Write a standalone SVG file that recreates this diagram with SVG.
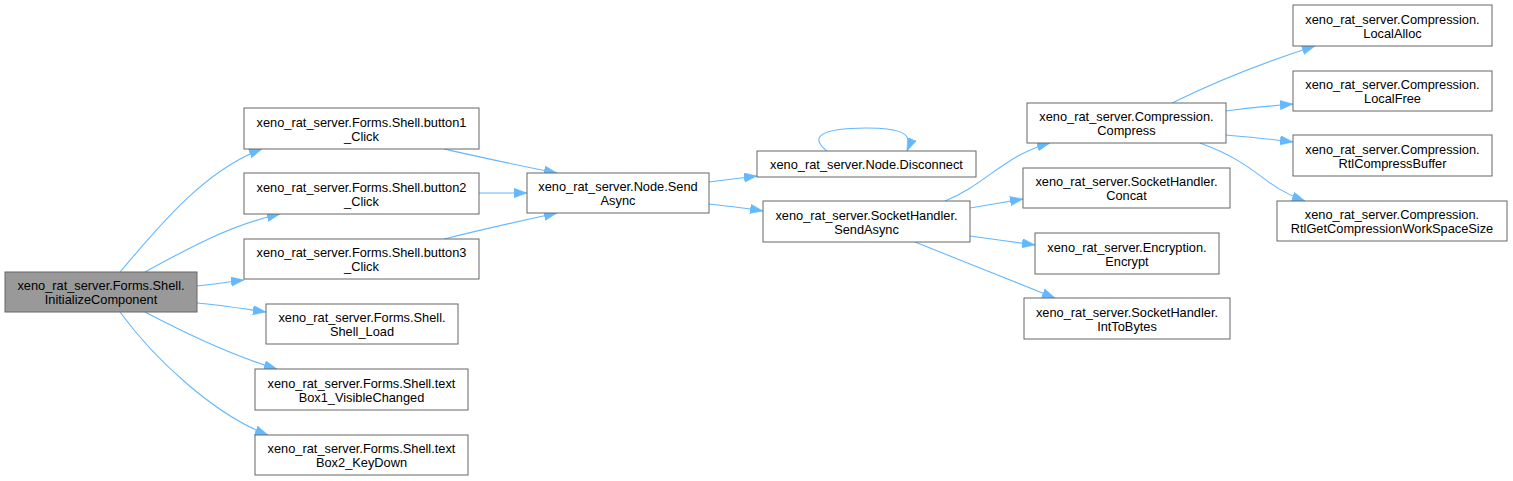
<svg xmlns="http://www.w3.org/2000/svg" width="1513" height="481" viewBox="0 0 1513 481">
<style>
.n rect{fill:#ffffff;stroke:#666666;stroke-width:1}
.root rect{fill:#999999;stroke:#666666;stroke-width:1}
text{font-family:"Liberation Sans",Arial,sans-serif;font-size:12.8px;fill:#000000;text-anchor:middle}
.e path{fill:none;stroke:#63b8ff;stroke-width:1.1;marker-end:url(#ah)}
</style>
<defs>
<marker id="ah" markerUnits="userSpaceOnUse" markerWidth="14" markerHeight="10" refX="13" refY="4.75" orient="auto">
<path d="M0,0 L13,4.75 L0,9.5 z" fill="#63b8ff" stroke="#63b8ff" stroke-width="0.5"/>
</marker>
</defs>
<rect width="1513" height="481" fill="#ffffff"/>
<g class="e" id="edges">
<path d="M120,272 C160,225 205,170 262,149"/>
<path d="M145,272 C185,250 230,225 280,214"/>
<path d="M197,286 C215,284 228,282 244,280"/>
<path d="M197,303 C220,305 245,309 266,312"/>
<path d="M145,312 C185,333 230,355 277,369"/>
<path d="M120,312 C155,360 215,415 268,435"/>
<path d="M444,149 C480,157 520,166 557,173"/>
<path d="M479,193 L527,193"/>
<path d="M444,239 C480,230 520,221 557,213"/>
<path d="M709,182 C725,180 740,178 757,176"/>
<path d="M709,204 C727,206 745,208 763,211"/>
<path d="M827,151 C810,138 818,128 866,128 C902,128 914,134 907,151"/>
<path d="M945,201 C985,185 1005,155 1050,143"/>
<path d="M970,208 C988,205 1005,202 1023,199"/>
<path d="M970,236 C992,239 1013,242 1035,245"/>
<path d="M915,242 C960,260 1010,280 1055,298"/>
<path d="M1172,103 C1215,82 1265,62 1315,46"/>
<path d="M1226,111 C1248,108 1270,106 1293,104"/>
<path d="M1226,135 C1248,137 1270,139 1293,142"/>
<path d="M1200,143 C1260,165 1260,185 1305,201"/>
</g>
<g class="root" id="n_InitializeComponent"><rect x="5" y="272" width="192" height="40"/><text x="101" y="290">xeno_rat_server.Forms.Shell.</text><text x="101" y="304">InitializeComponent</text></g>
<g class="n" id="n_button1"><rect x="244" y="108" width="235" height="41"/><text x="361.5" y="127">xeno_rat_server.Forms.Shell.button1</text><text x="361.5" y="141">_Click</text></g>
<g class="n" id="n_button2"><rect x="244" y="173" width="235" height="41"/><text x="361.5" y="192">xeno_rat_server.Forms.Shell.button2</text><text x="361.5" y="206">_Click</text></g>
<g class="n" id="n_button3"><rect x="244" y="239" width="235" height="40"/><text x="361.5" y="257">xeno_rat_server.Forms.Shell.button3</text><text x="361.5" y="271">_Click</text></g>
<g class="n" id="n_Shell_Load"><rect x="266" y="304" width="192" height="40"/><text x="362" y="322">xeno_rat_server.Forms.Shell.</text><text x="362" y="336">Shell_Load</text></g>
<g class="n" id="n_textBox1"><rect x="255" y="369" width="213" height="41"/><text x="361.5" y="388">xeno_rat_server.Forms.Shell.text</text><text x="361.5" y="402">Box1_VisibleChanged</text></g>
<g class="n" id="n_textBox2"><rect x="255" y="435" width="213" height="40"/><text x="361.5" y="453">xeno_rat_server.Forms.Shell.text</text><text x="361.5" y="467">Box2_KeyDown</text></g>
<g class="n" id="n_NodeSendAsync"><rect x="527" y="173" width="182" height="40"/><text x="618" y="191">xeno_rat_server.Node.Send</text><text x="618" y="205">Async</text></g>
<g class="n" id="n_Disconnect"><rect x="757" y="151" width="219" height="26"/><text x="866.5" y="168.5">xeno_rat_server.Node.Disconnect</text></g>
<g class="n" id="n_SHSendAsync"><rect x="763" y="201" width="207" height="41"/><text x="866.5" y="220">xeno_rat_server.SocketHandler.</text><text x="866.5" y="234">SendAsync</text></g>
<g class="n" id="n_Compress"><rect x="1027" y="103" width="199" height="40"/><text x="1126.5" y="121">xeno_rat_server.Compression.</text><text x="1126.5" y="135">Compress</text></g>
<g class="n" id="n_Concat"><rect x="1023" y="168" width="207" height="40"/><text x="1126.5" y="186">xeno_rat_server.SocketHandler.</text><text x="1126.5" y="200">Concat</text></g>
<g class="n" id="n_Encrypt"><rect x="1035" y="233" width="184" height="41"/><text x="1127" y="252">xeno_rat_server.Encryption.</text><text x="1127" y="266">Encrypt</text></g>
<g class="n" id="n_IntToBytes"><rect x="1024" y="298" width="206" height="41"/><text x="1127" y="317">xeno_rat_server.SocketHandler.</text><text x="1127" y="331">IntToBytes</text></g>
<g class="n" id="n_LocalAlloc"><rect x="1293" y="5" width="199" height="41"/><text x="1392.5" y="24">xeno_rat_server.Compression.</text><text x="1392.5" y="38">LocalAlloc</text></g>
<g class="n" id="n_LocalFree"><rect x="1293" y="71" width="199" height="40"/><text x="1392.5" y="89">xeno_rat_server.Compression.</text><text x="1392.5" y="103">LocalFree</text></g>
<g class="n" id="n_RtlCompressBuffer"><rect x="1293" y="135" width="199" height="41"/><text x="1392.5" y="154">xeno_rat_server.Compression.</text><text x="1392.5" y="168">RtlCompressBuffer</text></g>
<g class="n" id="n_RtlGetWS"><rect x="1277" y="201" width="230" height="40"/><text x="1392" y="219">xeno_rat_server.Compression.</text><text x="1392" y="233">RtlGetCompressionWorkSpaceSize</text></g>
</svg>
